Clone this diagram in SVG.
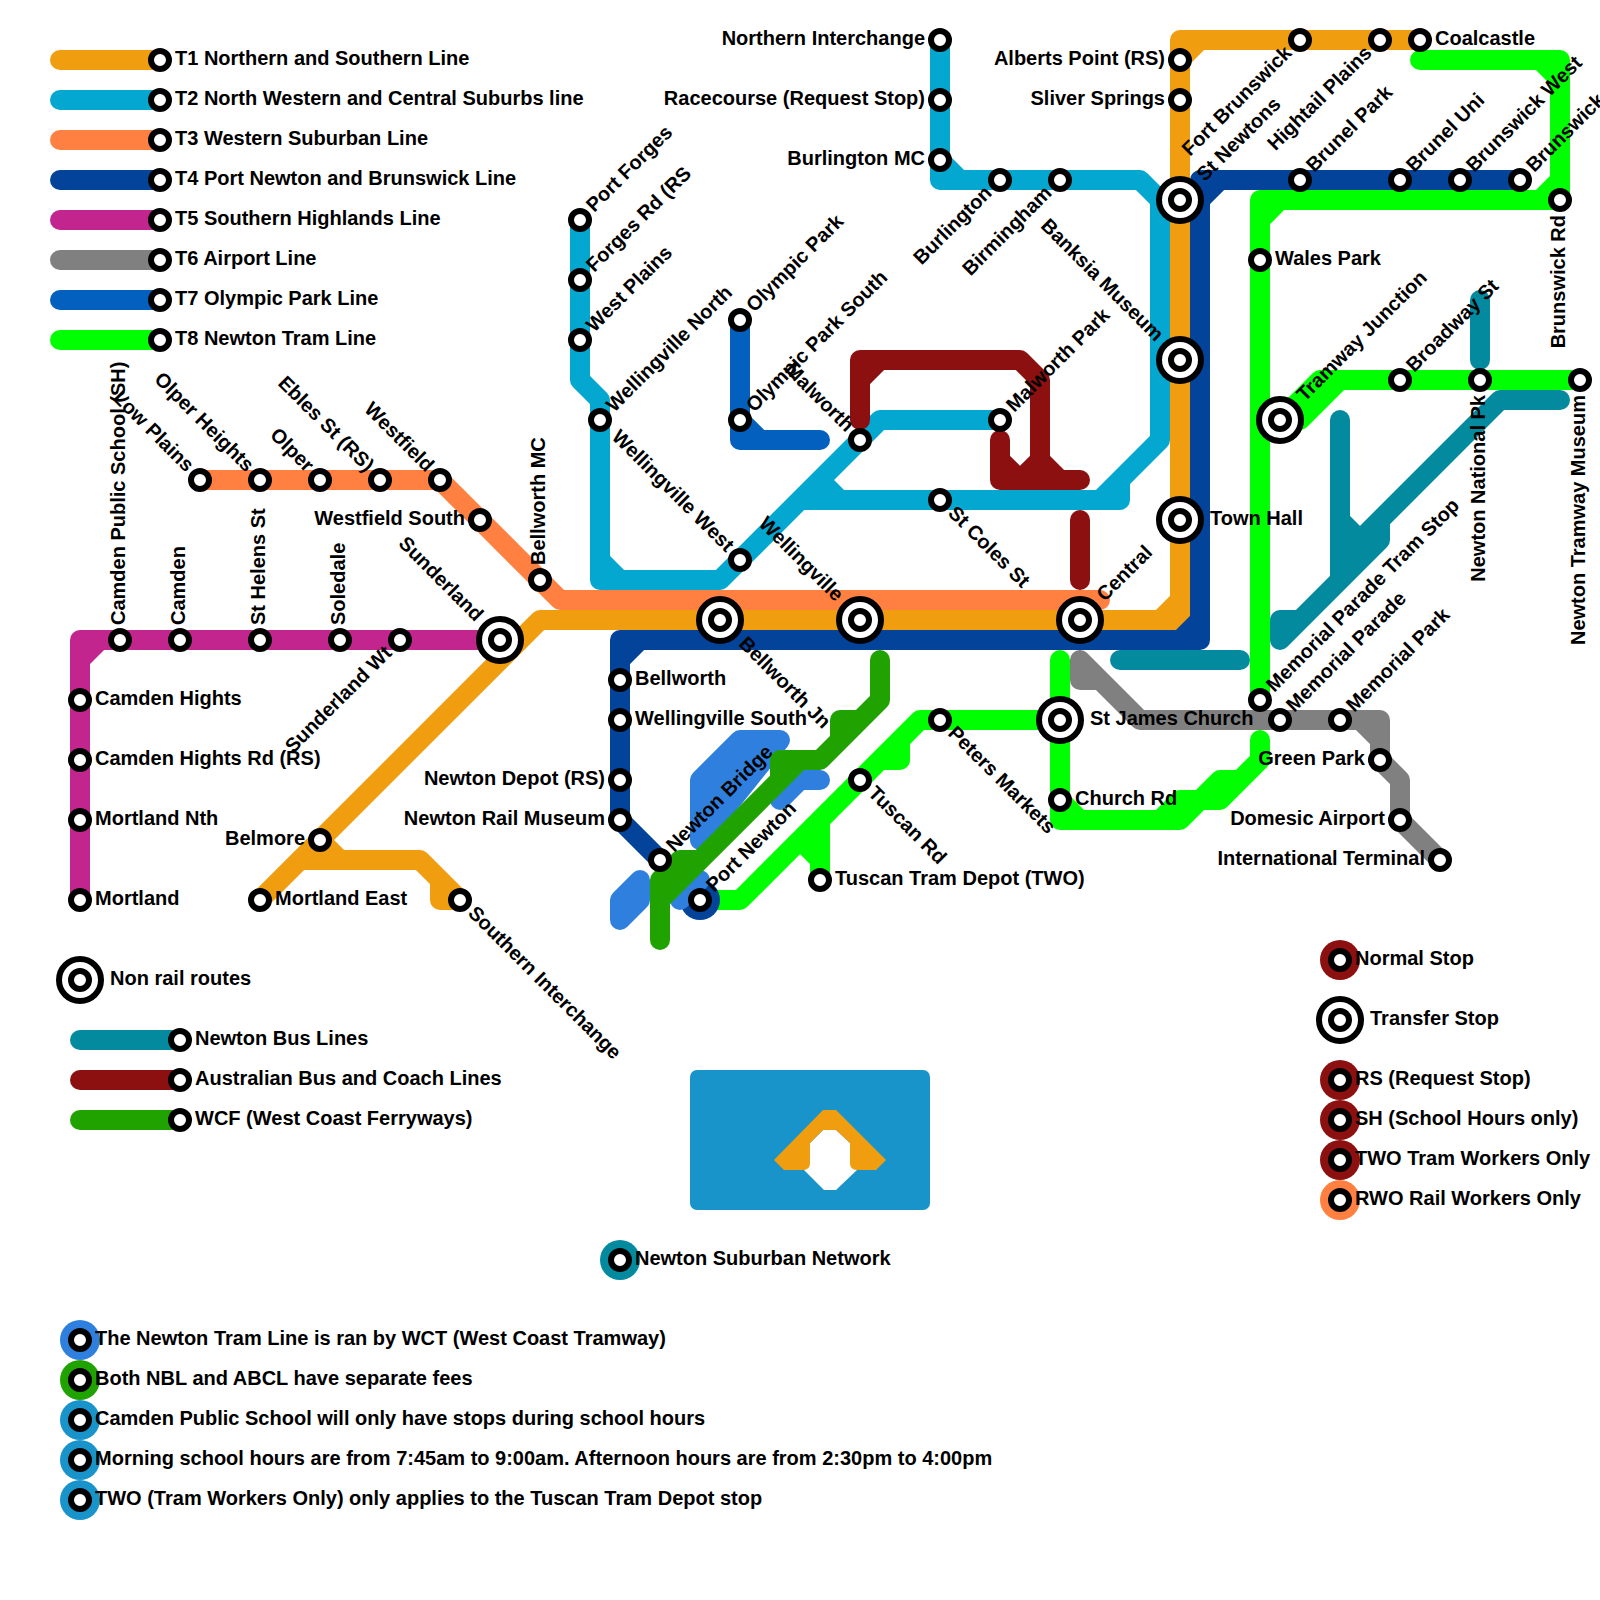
<svg xmlns="http://www.w3.org/2000/svg" width="1600" height="1600" viewBox="0 0 1600 1600">
<style>
text{font-family:"Liberation Sans",Arial,sans-serif;font-weight:bold;font-size:20px;fill:#000}
.e{text-anchor:end}
.ln{fill:none;stroke-width:20;stroke-linecap:round;stroke-linejoin:round}
.t1{stroke:#f09d0f}.t2{stroke:#03a7cf}.t3{stroke:#ff8040}.t4{stroke:#03449a}.t5{stroke:#c2258e}.t6{stroke:#808080}.t7{stroke:#0360bf}.t8{stroke:#00ff00}
.bus{stroke:#038a9e}.red{stroke:#8c1010}.wcf{stroke:#20a300}.wat{stroke:#2f80de}
</style>
<defs>
<g id="s"><circle r="9" fill="#fff" stroke="#000" stroke-width="6"/></g>
<g id="x"><circle r="21" fill="#fff" stroke="#000" stroke-width="6"/><circle r="9" fill="#fff" stroke="#000" stroke-width="6"/></g>
</defs>
<g id="connectors">
<path class="ln t3" d="M200 480H440L560 600H1100"/>
<path class="ln t1" d="M260 900L540 620H1180V40H1420M1180 600L1160 620M1180 60L1200 40M320 840L340 860M300 860H420L460 900H440V880"/>
<path class="ln t2" d="M940 40V180H1140L1160 200V440L1100 500M940 160L960 180M1120 480V500H800M820 480L840 500M580 220V380L600 400V580H720L880 420H1000M600 560L620 580"/>
<path class="ln t5" d="M80 900V640H500M80 660L100 640"/>
<path class="ln t6" d="M1080 660L1140 720H1380V760L1400 780V820L1440 860M1080 660V680H1100M1360 720L1380 740"/>
<path class="ln t7" d="M740 320V440H820M740 420L760 440"/>
<path class="ln t8" d="M1420 60H1560V200H1260V700M1540 60L1560 80M1560 180L1540 200M1260 220L1280 200M1280 420L1320 380M1300 420L1340 380M1320 380H1580"/>
<path class="ln t8" d="M1060 660V820H1180L1200 800H1220L1260 760V740M1060 800L1080 820M1160 820L1180 800H1200L1220 780H1240"/>
<path class="ln t8" d="M1060 720H920L740 900H700M900 740V760H880M820 820V880M800 840L820 860"/>
<path class="ln t4" d="M620 820V640H1200V180H1520M620 660L640 640M1200 620L1180 640M1200 200L1220 180M620 820L700 900"/>
<circle cx="700" cy="900" r="20" fill="#03449a"/>
<path class="ln wat" style="fill:#2f80de" d="M700 780L740 740H780L700 840Z"/>
<path class="ln wat" d="M820 780H800L780 800M680 900L700 880"/>
<path class="ln wat" style="fill:#2f80de" d="M620 900L640 880V900L620 920Z"/>
<path class="ln wcf" d="M660 940V880L680 860H700M660 900L800 760H780V780M800 760H820L880 700V660M840 740V720H860L880 700M840 740L820 760"/>
<path class="ln red" d="M860 420V360H1020L1040 380V480M860 380L880 360M1000 440V480H1080M1000 460L1020 480L1040 460L1060 480M1080 520V580"/>
<path class="ln bus" d="M1480 300V360M1560 400H1500L1340 560M1380 520V540L1280 640V620H1300L1340 580V420M1340 520L1360 540M1120 660H1240"/>
</g>
<g id="symbol">
<rect x="690" y="1070" width="240" height="140" rx="7" fill="#1994cb"/>
<polygon points="823,1130 836,1130 850,1143 850,1163 857,1170 836,1190 824,1190 804,1170 810,1163 810,1143" fill="#fff"/>
<path d="M823 1110H836L886 1160L876 1170H857Q850 1170 850 1163V1143L836 1130H823L810 1143V1163Q810 1170 803 1170H784L774 1160Z" fill="#f09d0f"/>
</g>
<g id="legend-lines">
<path class="ln t1" d="M60 60H160"/><path class="ln t2" d="M60 100H160"/><path class="ln t3" d="M60 140H160"/><path class="ln t4" d="M60 180H160"/><path class="ln t5" d="M60 220H160"/><path class="ln t6" d="M60 260H160"/><path class="ln t7" d="M60 300H160"/><path class="ln t8" d="M60 340H160"/>
<path class="ln bus" d="M80 1040H180"/><path class="ln red" d="M80 1080H180"/><path class="ln wcf" d="M80 1120H180"/>
</g>
<g id="leg1" transform="translate(160 60)"><use href="#s"/><text x="15" y="5">T1 Northern and Southern Line</text></g>
<g id="leg2" transform="translate(160 100)"><use href="#s"/><text x="15" y="5">T2 North Western and Central Suburbs line</text></g>
<g id="leg3" transform="translate(160 140)"><use href="#s"/><text x="15" y="5">T3 Western Suburban Line</text></g>
<g id="leg4" transform="translate(160 180)"><use href="#s"/><text x="15" y="5">T4 Port Newton and Brunswick Line</text></g>
<g id="leg5" transform="translate(160 220)"><use href="#s"/><text x="15" y="5">T5 Southern Highlands Line</text></g>
<g id="leg6" transform="translate(160 260)"><use href="#s"/><text x="15" y="5">T6 Airport Line</text></g>
<g id="leg7" transform="translate(160 300)"><use href="#s"/><text x="15" y="5">T7 Olympic Park Line</text></g>
<g id="leg8" transform="translate(160 340)"><use href="#s"/><text x="15" y="5">T8 Newton Tram Line</text></g>
<g id="leg-nonrail" transform="translate(80 980)"><use href="#x"/><text x="30" y="5">Non rail routes</text></g>
<g id="leg-bus" transform="translate(180 1040)"><use href="#s"/><text x="15" y="5">Newton Bus Lines</text></g>
<g id="leg-abcl" transform="translate(180 1080)"><use href="#s"/><text x="15" y="5">Australian Bus and Coach Lines</text></g>
<g id="leg-wcf" transform="translate(180 1120)"><use href="#s"/><text x="15" y="5">WCF (West Coast Ferryways)</text></g>
<g id="leg-normal" transform="translate(1340 960)"><circle r="20" fill="#8c1010"/><use href="#s"/><text x="15" y="5">Normal Stop</text></g>
<g id="leg-transfer" transform="translate(1340 1020)"><use href="#x"/><text x="30" y="5">Transfer Stop</text></g>
<g id="leg-rs" transform="translate(1340 1080)"><circle r="20" fill="#8c1010"/><use href="#s"/><text x="15" y="5">RS (Request Stop)</text></g>
<g id="leg-sh" transform="translate(1340 1120)"><circle r="20" fill="#8c1010"/><use href="#s"/><text x="15" y="5">SH (School Hours only)</text></g>
<g id="leg-two" transform="translate(1340 1160)"><circle r="20" fill="#8c1010"/><use href="#s"/><text x="15" y="5">TWO Tram Workers Only</text></g>
<g id="leg-rwo" transform="translate(1340 1200)"><circle r="20" fill="#ff8040"/><use href="#s"/><text x="15" y="5">RWO Rail Workers Only</text></g>
<g id="leg-network" transform="translate(620 1260)"><circle r="20" fill="#038a9e"/><use href="#s"/><text x="15" y="5">Newton Suburban Network</text></g>
<g id="note1" transform="translate(80 1340)"><circle r="20" fill="#2f80de"/><use href="#s"/><text x="15" y="5">The Newton Tram Line is ran by WCT (West Coast Tramway)</text></g>
<g id="note2" transform="translate(80 1380)"><circle r="20" fill="#20a300"/><use href="#s"/><text x="15" y="5">Both NBL and ABCL have separate fees</text></g>
<g id="note3" transform="translate(80 1420)"><circle r="20" fill="#1994cb"/><use href="#s"/><text x="15" y="5">Camden Public School will only have stops during school hours</text></g>
<g id="note4" transform="translate(80 1460)"><circle r="20" fill="#1994cb"/><use href="#s"/><text x="15" y="5">Morning school hours are from 7:45am to 9:00am. Afternoon hours are from 2:30pm to 4:00pm</text></g>
<g id="note5" transform="translate(80 1500)"><circle r="20" fill="#1994cb"/><use href="#s"/><text x="15" y="5">TWO (Tram Workers Only) only applies to the Tuscan Tram Depot stop</text></g>

<g id="camden-public-school" transform="translate(120 640) rotate(-90)"><use href="#s"/><text x="15" y="5">Camden Public School (SH)</text></g>
<g id="camden" transform="translate(180 640) rotate(-90)"><use href="#s"/><text x="15" y="5">Camden</text></g>
<g id="st-helens-st" transform="translate(260 640) rotate(-90)"><use href="#s"/><text x="15" y="5">St Helens St</text></g>
<g id="soledale" transform="translate(340 640) rotate(-90)"><use href="#s"/><text x="15" y="5">Soledale</text></g>
<g id="sunderland-wt" transform="translate(400 640) rotate(-45)"><use href="#s"/><text class="e" x="-15" y="5">Sunderland Wt</text></g>
<g id="sunderland" transform="translate(500 640) rotate(45)"><use href="#x"/><text class="e" x="-30" y="5">Sunderland</text></g>
<g id="camden-hights" transform="translate(80 700)"><use href="#s"/><text x="15" y="5">Camden Hights</text></g>
<g id="camden-hights-rd" transform="translate(80 760)"><use href="#s"/><text x="15" y="5">Camden Hights Rd (RS)</text></g>
<g id="mortland-nth" transform="translate(80 820)"><use href="#s"/><text x="15" y="5">Mortland Nth</text></g>
<g id="mortland" transform="translate(80 900)"><use href="#s"/><text x="15" y="5">Mortland</text></g>
<g id="low-plains" transform="translate(200 480) rotate(45)"><use href="#s"/><text class="e" x="-15" y="5">Low Plains</text></g>
<g id="olper-heights" transform="translate(260 480) rotate(45)"><use href="#s"/><text class="e" x="-15" y="5">Olper Heights</text></g>
<g id="olper" transform="translate(320 480) rotate(45)"><use href="#s"/><text class="e" x="-15" y="5">Olper</text></g>
<g id="ebles-st" transform="translate(380 480) rotate(45)"><use href="#s"/><text class="e" x="-15" y="5">Ebles St (RS)</text></g>
<g id="westfield" transform="translate(440 480) rotate(45)"><use href="#s"/><text class="e" x="-15" y="5">Westfield</text></g>
<g id="westfield-south" transform="translate(480 520)"><use href="#s"/><text class="e" x="-15" y="5">Westfield South</text></g>
<g id="bellworth-mc" transform="translate(540 580) rotate(-90)"><use href="#s"/><text x="15" y="5">Bellworth MC</text></g>
<g id="belmore" transform="translate(320 840)"><use href="#s"/><text class="e" x="-15" y="5">Belmore</text></g>
<g id="mortland-east" transform="translate(260 900)"><use href="#s"/><text x="15" y="5">Mortland East</text></g>
<g id="southern-interchange" transform="translate(460 900) rotate(45)"><use href="#s"/><text x="15" y="5">Southern Interchange</text></g>
<g id="bellworth-jn" transform="translate(720 620) rotate(45)"><use href="#x"/><text x="30" y="5">Bellworth Jn</text></g>
<g id="wellingville" transform="translate(860 620) rotate(45)"><use href="#x"/><text class="e" x="-30" y="5">Wellingville</text></g>
<g id="central" transform="translate(1080 620) rotate(-45)"><use href="#x"/><text x="30" y="5">Central</text></g>
<g id="st-newtons" transform="translate(1180 200) rotate(-45)"><use href="#x"/><text x="30" y="5">St Newtons</text></g>
<g id="banksia-museum" transform="translate(1180 360) rotate(45)"><use href="#x"/><text class="e" x="-30" y="5">Banksia Museum</text></g>
<g id="town-hall" transform="translate(1180 520)"><use href="#x"/><text x="30" y="5">Town Hall</text></g>
<g id="alberts-point" transform="translate(1180 60)"><use href="#s"/><text class="e" x="-15" y="5">Alberts Point (RS)</text></g>
<g id="sliver-springs" transform="translate(1180 100)"><use href="#s"/><text class="e" x="-15" y="5">Sliver Springs</text></g>
<g id="fort-brunswick" transform="translate(1300 40) rotate(-45)"><use href="#s"/><text class="e" x="-15" y="5">Fort Brunswick</text></g>
<g id="hightail-plains" transform="translate(1380 40) rotate(-45)"><use href="#s"/><text class="e" x="-15" y="5">Hightail Plains</text></g>
<g id="coalcastle" transform="translate(1420 40)"><use href="#s"/><text x="15" y="5">Coalcastle</text></g>
<g id="northern-interchange" transform="translate(940 40)"><use href="#s"/><text class="e" x="-15" y="5">Northern Interchange</text></g>
<g id="racecourse" transform="translate(940 100)"><use href="#s"/><text class="e" x="-15" y="5">Racecourse (Request Stop)</text></g>
<g id="burlington-mc" transform="translate(940 160)"><use href="#s"/><text class="e" x="-15" y="5">Burlington MC</text></g>
<g id="burlington" transform="translate(1000 180) rotate(-45)"><use href="#s"/><text class="e" x="-15" y="5">Burlington</text></g>
<g id="birmingham" transform="translate(1060 180) rotate(-45)"><use href="#s"/><text class="e" x="-15" y="5">Birmingham</text></g>
<g id="port-forges" transform="translate(580 220) rotate(-45)"><use href="#s"/><text x="15" y="5">Port Forges</text></g>
<g id="forges-rd" transform="translate(580 280) rotate(-45)"><use href="#s"/><text x="15" y="5">Forges Rd (RS</text></g>
<g id="west-plains" transform="translate(580 340) rotate(-45)"><use href="#s"/><text x="15" y="5">West Plains</text></g>
<g id="wellingville-north" transform="translate(600 420) rotate(-45)"><use href="#s"/><text x="15" y="5">Wellingville North</text></g>
<g id="wellingville-west" transform="translate(740 560) rotate(45)"><use href="#s"/><text class="e" x="-15" y="5">Wellingville West</text></g>
<g id="malworth-park" transform="translate(1000 420) rotate(-45)"><use href="#s"/><text x="15" y="5">Malworth Park</text></g>
<g id="malworth" transform="translate(860 440) rotate(45)"><use href="#s"/><text class="e" x="-15" y="5">Malworth</text></g>
<g id="st-coles-st" transform="translate(940 500) rotate(45)"><use href="#s"/><text x="15" y="5">St Coles St</text></g>
<g id="olympic-park" transform="translate(740 320) rotate(-45)"><use href="#s"/><text x="15" y="5">Olympic Park</text></g>
<g id="olympic-park-south" transform="translate(740 420) rotate(-45)"><use href="#s"/><text x="15" y="5">Olympic Park South</text></g>
<g id="bellworth" transform="translate(620 680)"><use href="#s"/><text x="15" y="5">Bellworth</text></g>
<g id="wellingville-south" transform="translate(620 720)"><use href="#s"/><text x="15" y="5">Wellingville South</text></g>
<g id="newton-depot" transform="translate(620 780)"><use href="#s"/><text class="e" x="-15" y="5">Newton Depot (RS)</text></g>
<g id="newton-rail-museum" transform="translate(620 820)"><use href="#s"/><text class="e" x="-15" y="5">Newton Rail Museum</text></g>
<g id="newton-bridge" transform="translate(660 860) rotate(-45)"><use href="#s"/><text x="15" y="5">Newton Bridge</text></g>
<g id="port-newton" transform="translate(700 900) rotate(-45)"><use href="#s"/><text x="15" y="5">Port Newton</text></g>
<g id="brunel-park" transform="translate(1300 180) rotate(-45)"><use href="#s"/><text x="15" y="5">Brunel Park</text></g>
<g id="brunel-uni" transform="translate(1400 180) rotate(-45)"><use href="#s"/><text x="15" y="5">Brunel Uni</text></g>
<g id="brunswick-west" transform="translate(1460 180) rotate(-45)"><use href="#s"/><text x="15" y="5">Brunswick West</text></g>
<g id="brunswick" transform="translate(1520 180) rotate(-45)"><use href="#s"/><text x="15" y="5">Brunswick</text></g>
<g id="brunswick-rd" transform="translate(1560 200) rotate(-90)"><use href="#s"/><text class="e" x="-15" y="5">Brunswick Rd</text></g>
<g id="wales-park" transform="translate(1260 260)"><use href="#s"/><text x="15" y="5">Wales Park</text></g>
<g id="tramway-junction" transform="translate(1280 420) rotate(-45)"><use href="#x"/><text x="30" y="5">Tramway Junction</text></g>
<g id="broadway-st" transform="translate(1400 380) rotate(-45)"><use href="#s"/><text x="15" y="5">Broadway St</text></g>
<g id="newton-national-pk" transform="translate(1480 380) rotate(-90)"><use href="#s"/><text class="e" x="-15" y="5">Newton National Pk</text></g>
<g id="newton-tramway-museum" transform="translate(1580 380) rotate(-90)"><use href="#s"/><text class="e" x="-15" y="5">Newton Tramway Museum</text></g>
<g id="memorial-parade-tram-stop" transform="translate(1260 700) rotate(-45)"><use href="#s"/><text x="15" y="5">Memorial Parade Tram Stop</text></g>
<g id="memorial-parade" transform="translate(1280 720) rotate(-45)"><use href="#s"/><text x="15" y="5">Memorial Parade</text></g>
<g id="memorial-park" transform="translate(1340 720) rotate(-45)"><use href="#s"/><text x="15" y="5">Memorial Park</text></g>
<g id="green-park" transform="translate(1380 760)"><use href="#s"/><text class="e" x="-15" y="5">Green Park</text></g>
<g id="domesic-airport" transform="translate(1400 820)"><use href="#s"/><text class="e" x="-15" y="5">Domesic Airport</text></g>
<g id="international-terminal" transform="translate(1440 860)"><use href="#s"/><text class="e" x="-15" y="5">International Terminal</text></g>
<g id="peters-markets" transform="translate(940 720) rotate(45)"><use href="#s"/><text x="15" y="5">Peters Markets</text></g>
<g id="tuscan-rd" transform="translate(860 780) rotate(45)"><use href="#s"/><text x="15" y="5">Tuscan Rd</text></g>
<g id="tuscan-tram-depot" transform="translate(820 880)"><use href="#s"/><text x="15" y="5">Tuscan Tram Depot (TWO)</text></g>
<g id="st-james-church" transform="translate(1060 720)"><use href="#x"/><text x="30" y="5">St James Church</text></g>
<g id="church-rd" transform="translate(1060 800)"><use href="#s"/><text x="15" y="5">Church Rd</text></g>
</svg>
